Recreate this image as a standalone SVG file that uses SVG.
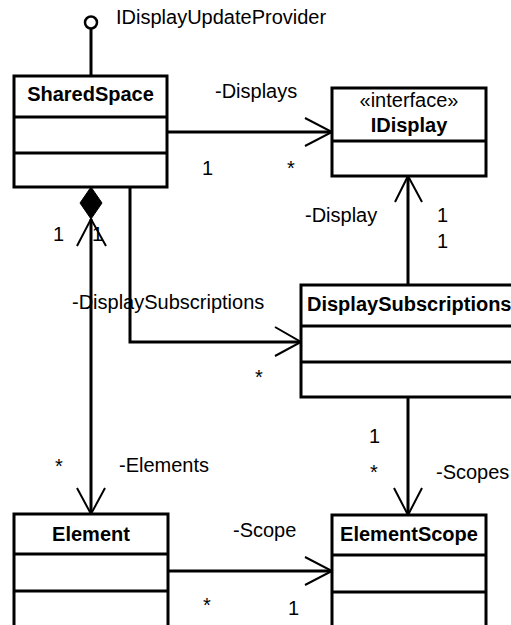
<svg xmlns="http://www.w3.org/2000/svg" width="511" height="625" viewBox="0 0 511 625">
<style>
.box{fill:#fff;stroke:#000;stroke-width:3}
.div{stroke:#000;stroke-width:3}
.ln{fill:none;stroke:#000;stroke-width:3}
.ah{fill:none;stroke:#000;stroke-width:2}
text{font-family:"Liberation Sans",Arial,sans-serif;font-size:20px;fill:#000}
.t{font-weight:bold;text-anchor:middle}
.tb{font-weight:bold}
.c{text-anchor:middle}
</style>
<rect width="511" height="625" fill="#fff"/>
<g id="connectors">
<circle cx="91" cy="22.5" r="6" fill="#fff" stroke="#000" stroke-width="2.5"/>
<line class="ln" x1="91" y1="28.5" x2="91" y2="76"/>
<line class="ln" x1="167" y1="132" x2="332" y2="132"/>
<polyline class="ah" points="305,118 332,132 305,146"/>
<line class="ln" x1="408" y1="176" x2="408" y2="285"/>
<polyline class="ah" points="395,202 408,176 422,202"/>
<path class="ln" d="M130,187 V342 H301"/>
<polyline class="ah" points="275,327 301,342 275,356"/>
<polygon points="91,187 102,203 91,219 80,203" fill="#000" stroke="#000" stroke-width="1"/>
<line class="ln" x1="91" y1="219" x2="91" y2="514"/>
<polyline class="ah" points="77,246 91,219 106,246"/>
<polyline class="ah" points="77,488 91,514 105,488"/>
<line class="ln" x1="408" y1="397" x2="408" y2="515"/>
<polyline class="ah" points="394,488 408,515 422,488"/>
<line class="ln" x1="168" y1="571" x2="332" y2="571"/>
<polyline class="ah" points="305,557 332,571 305,585"/>
<text x="116" y="24">IDisplayUpdateProvider</text>
<text x="215" y="98">-Displays</text>
<text x="202" y="175">1</text>
<text x="287" y="175">*</text>
<text x="305" y="222">-Display</text>
<text x="437" y="222">1</text>
<text x="437" y="248">1</text>
<text x="53" y="241">1</text>
<text x="92" y="241">1</text>
<text x="72" y="309">-DisplaySubscriptions</text>
<text x="255" y="384">*</text>
<text x="55" y="473">*</text>
<text x="119" y="472">-Elements</text>
<text x="369" y="443">1</text>
<text x="370" y="479">*</text>
<text x="436" y="479">-Scopes</text>
<text x="233" y="537">-Scope</text>
<text x="203" y="612">*</text>
<text x="288" y="615">1</text>
</g>
<g id="SharedSpace">
<rect class="box" x="14" y="76" width="153" height="111"/>
<line class="div" x1="14" y1="117" x2="167" y2="117"/>
<line class="div" x1="14" y1="153" x2="167" y2="153"/>
<text class="t" x="90.5" y="101">SharedSpace</text>
</g>
<g id="IDisplay">
<rect class="box" x="332" y="88" width="154" height="88"/>
<line class="div" x1="332" y1="141" x2="486" y2="141"/>
<text class="c" x="409" y="107">«interface»</text>
<text class="t" x="409" y="132">IDisplay</text>
</g>
<g id="DisplaySubscriptions">
<rect class="box" x="301" y="285" width="250" height="112"/>
<line class="div" x1="301" y1="326" x2="551" y2="326"/>
<line class="div" x1="301" y1="362" x2="551" y2="362"/>
<text class="tb" x="307" y="311">DisplaySubscriptions</text>
</g>
<g id="Element">
<rect class="box" x="14" y="514" width="154" height="200"/>
<line class="div" x1="14" y1="554" x2="168" y2="554"/>
<line class="div" x1="14" y1="591" x2="168" y2="591"/>
<text class="t" x="91" y="541">Element</text>
</g>
<g id="ElementScope">
<rect class="box" x="332" y="515" width="154" height="200"/>
<line class="div" x1="332" y1="555" x2="486" y2="555"/>
<line class="div" x1="332" y1="592" x2="486" y2="592"/>
<text class="t" x="409" y="541">ElementScope</text>
</g>
</svg>
